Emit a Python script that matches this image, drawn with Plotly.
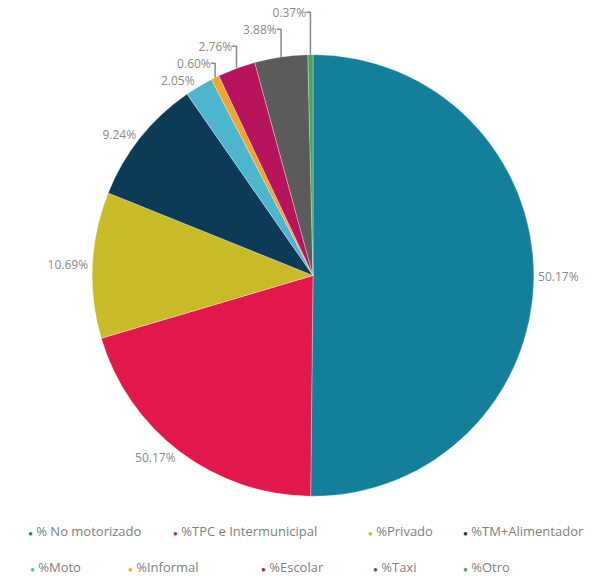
import plotly.graph_objects as go

labels = ["% No motorizado", "%TPC e Intermunicipal", "%Privado", "%TM+Alimentador",
          "%Moto", "%Informal", "%Escolar", "%Taxi", "%Otro"]
values = [50.17, 20.24, 10.69, 9.24, 2.05, 0.60, 2.76, 3.88, 0.37]
label_text = ["50.17%", "50.17%", "10.69%", "9.24%", "2.05%", "0.60%", "2.76%", "3.88%", "0.37%"]
colors = ["#12809a", "#e2184c", "#c9bb27", "#0c3b57", "#4cb6cf", "#f2a52e", "#b8145e", "#5b5b5b", "#4aa35a"]

# legend layout (pixel positions of each entry's dot)
leg_x = [30, 175, 370, 465, 32, 130, 263, 375, 465]
leg_y = [528, 528, 528, 528, 566, 566, 566, 566, 566]

W, H = 607, 581
FONT = "Open Sans, Roboto, sans-serif"

fig = go.Figure(go.Pie(
    labels=labels, values=values, text=label_text,
    texttemplate="%{text}", textposition="outside",
    textfont=dict(size=12, color="#8a8a8a", family=FONT),
    marker=dict(colors=colors, line=dict(width=0.6, color="rgba(255,255,255,0.5)")),
    sort=False, direction="clockwise", rotation=0,
    domain=dict(x=[81 / W, 545 / W], y=[1 - 492 / H, 1 - 28 / H]),
    showlegend=False, hoverinfo="label+percent",
))

for lab, col, lx, ly in zip(labels, colors, leg_x, leg_y):
    fig.add_annotation(
        x=(lx - 4) / W, y=1 - ly / H, xref="paper", yref="paper",
        xanchor="left", yanchor="middle", showarrow=False,
        text=f"<span style='color:{col};font-size:8px'>●</span> {lab}",
        font=dict(size=13, color="#808080", family=FONT),
    )

fig.update_layout(
    width=W, height=H, margin=dict(l=0, r=0, t=0, b=0),
    paper_bgcolor="white", plot_bgcolor="white",
)
fig.write_html("out.html")
